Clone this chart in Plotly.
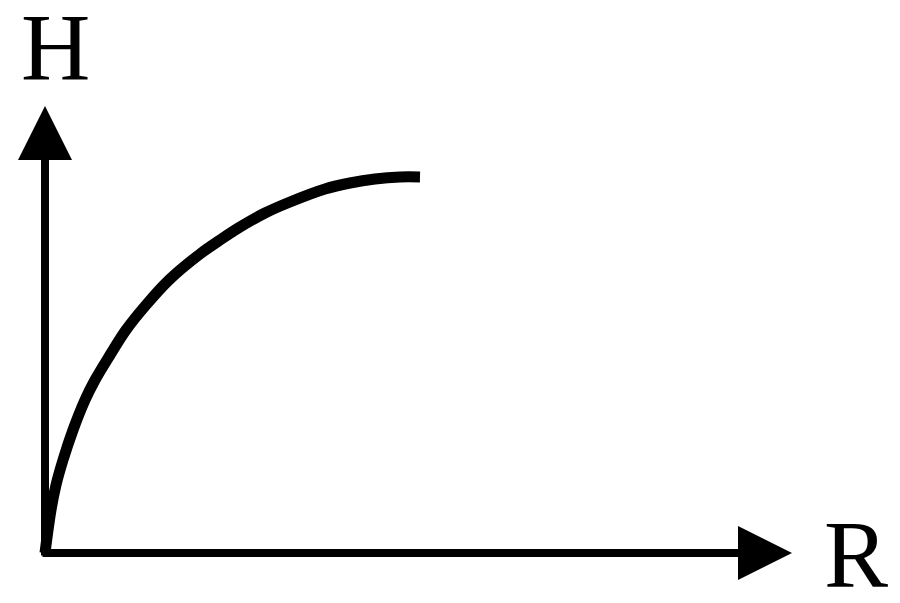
import plotly.graph_objects as go

# curve (R, H in arbitrary units)
r_vals = [0, 0.06, 0.11, 0.18, 0.28, 0.40, 0.50, 0.65, 0.81, 1.01, 1.24, 1.55, 1.75, 1.95,
          2.20, 2.45, 2.80, 3.05, 3.30, 3.55, 3.75]
h_vals = [0, 0.43, 0.68, 0.93, 1.23, 1.53, 1.73, 1.98, 2.23, 2.48, 2.73, 2.99, 3.13, 3.26,
          3.40, 3.51, 3.64, 3.70, 3.74, 3.76, 3.76]

# axis extents (arrow tips)
r_max = 7.47
h_max = 4.47
axis_labels = ["R", "H"]

curve = go.Scatter(
    x=r_vals, y=h_vals,
    mode='lines',
    line=dict(width=11, color='black', shape='spline', smoothing=1.0),
    hoverinfo='none')

fig = go.Figure(data=[curve])

# axes drawn as arrows from the origin
arrow_style = dict(showarrow=True, text='', arrowhead=2, arrowsize=1.35,
                   arrowwidth=8, arrowcolor='black', standoff=0,
                   xref='x', yref='y', axref='x', ayref='y')
fig.add_annotation(x=r_max, y=0, ax=-0.04, ay=0, **arrow_style)
fig.add_annotation(x=0, y=h_max, ax=0, ay=-0.04, **arrow_style)

label_font = dict(family='Liberation Serif', size=96, color='black')
fig.add_annotation(x=8.11, y=-0.01, text=axis_labels[0], showarrow=False,
                   xanchor='center', yanchor='middle', font=label_font)
fig.add_annotation(x=0.10, y=5.06, text=axis_labels[1], showarrow=False,
                   xanchor='center', yanchor='middle', font=label_font)

fig.update_layout(
    width=900, height=603,
    showlegend=False,
    paper_bgcolor='white',
    plot_bgcolor='white',
    margin=dict(l=0, r=0, t=0, b=0),
    xaxis=dict(range=[-0.45, 8.55], visible=False, fixedrange=True),
    yaxis=dict(range=[-0.5, 5.53], visible=False, fixedrange=True),
)
# drop the default page margin so the figure sits at the window corner
fig.write_html("out.html", config={'displayModeBar': False},
               post_script="document.body.style.margin='0';document.body.style.overflow='hidden';")
